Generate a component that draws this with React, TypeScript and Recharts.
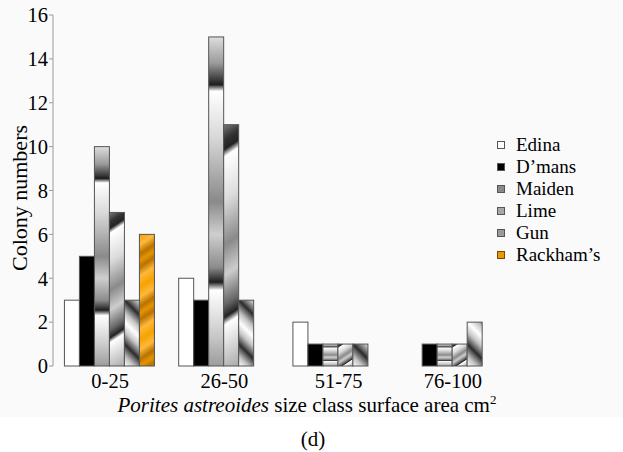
import React from 'react';
import { BarChart, Bar, XAxis, YAxis, Legend } from 'recharts';

// Porites astreoides colony counts per size class, by site
const sizeClasses = ['0-25', '26-50', '51-75', '76-100'];
const edina = [3, 4, 2, 0];
const dmans = [5, 3, 1, 1];
const maiden = [10, 15, 1, 1];
const lime = [7, 11, 1, 1];
const gun = [3, 3, 1, 2];
const rackhams = [6, 0, 0, 0];
const yTicks = [0, 2, 4, 6, 8, 10, 12, 14, 16];
const boundaryTicks = [0, 1, 2, 3, 4];

const FONT = '"Liberation Serif", "Times New Roman", Times, serif';
const AXIS = '#9a9a9a';
const EDGE = '#555';

const series = [
  { key: 'edina', name: 'Edina', kind: 'white', swatch: '#fff' },
  { key: 'dmans', name: 'D\u2019mans', kind: 'black', swatch: '#000' },
  { key: 'maiden', name: 'Maiden', kind: 'bands', swatch: '#8a8a8a' },
  { key: 'lime', name: 'Lime', kind: 'slant', swatch: '#a8a8a8' },
  { key: 'gun', name: 'Gun', kind: 'zigzag', swatch: '#9a9a9a' },
  { key: 'rackhams', name: 'Rackham\u2019s', kind: 'orange', swatch: '#e8960a' },
];

const chartData = sizeClasses.map((size, i) => ({
  size,
  edina: edina[i],
  dmans: dmans[i],
  maiden: maiden[i],
  lime: lime[i],
  gun: gun[i],
  rackhams: rackhams[i],
}));

type Stop = [number, string];

const bandStops: Stop[] = [
  [0, '#dedede'], [0.08, '#9a9a9a'], [0.145, '#1e1e1e'], [0.165, '#ffffff'],
  [0.3, '#dadada'], [0.5, '#8a8a8a'], [0.6, '#cfcfcf'], [0.7, '#8c8c8c'],
  [0.745, '#1e1e1e'], [0.77, '#ffffff'], [0.9, '#cccccc'], [1, '#9c9c9c'],
];
const slantStops: Stop[] = [
  [0, '#7a7a7a'], [0.06, '#333'], [0.1, '#222'], [0.13, '#fff'], [0.3, '#dcdcdc'],
  [0.48, '#8a8a8a'], [0.6, '#cdcdcd'], [0.72, '#666'], [0.77, '#222'], [0.8, '#fff'], [1, '#aaa'],
];
const zigzagStops: Stop[] = [[0, '#fff'], [0.45, '#c4c4c4'], [0.8, '#666'], [1, '#2a2a2a']];
const orangeStops: Stop[] = [[0, '#f5a300'], [0.4, '#ffb83a'], [0.75, '#b87200'], [1, '#e59300']];

const stopEls = (stops: Stop[]) =>
  stops.map(([o, c], i) => <stop key={i} offset={o} stopColor={c} />);

const makeShape = (kind: string) => (props: any) => {
  const { x, y, width, height, index } = props;
  if (!height || height <= 0) return null;
  const id = `${kind}-${index}`;
  const rect = (fill: string) => (
    <rect x={x} y={y} width={width} height={height} fill={fill} stroke={EDGE} strokeWidth={1} />
  );
  if (kind === 'white') return rect('#ffffff');
  if (kind === 'black') return rect('#000000');

  let grad: React.ReactNode = null;
  if (kind === 'bands') {
    grad = (
      <linearGradient id={id} x1="0" y1="0" x2="0" y2="1">
        {stopEls(bandStops)}
      </linearGradient>
    );
  } else if (kind === 'slant') {
    const nx = 0.55;
    const ny = 0.835;
    const L = nx * width + ny * height;
    grad = (
      <linearGradient id={id} gradientUnits="userSpaceOnUse" x1={x} y1={y} x2={x + nx * L} y2={y + ny * L}>
        {stopEls(slantStops)}
      </linearGradient>
    );
  } else if (kind === 'zigzag') {
    const p = 11;
    grad = (
      <linearGradient
        id={id}
        gradientUnits="userSpaceOnUse"
        spreadMethod="reflect"
        x1={x}
        y1={y + height}
        x2={x + p}
        y2={y + height - p}
      >
        {stopEls(zigzagStops)}
      </linearGradient>
    );
  } else {
    const p = 22;
    grad = (
      <linearGradient
        id={id}
        gradientUnits="userSpaceOnUse"
        spreadMethod="reflect"
        x1={x}
        y1={y}
        x2={x + 0.55 * p}
        y2={y + 0.835 * p}
      >
        {stopEls(orangeStops)}
      </linearGradient>
    );
  }
  return (
    <g>
      <defs>{grad}</defs>
      {rect(`url(#${id})`)}
    </g>
  );
};

// legend rows: slightly looser than the source so the labels don't collide
const renderLegend = () => (
  <div style={{ fontFamily: FONT, fontSize: 19, color: '#000' }}>
    {series.map((s) => (
      <div key={s.key} style={{ display: 'flex', alignItems: 'center', height: 22, lineHeight: '22px' }}>
        <span
          style={{
            display: 'inline-block',
            width: 6,
            height: 6,
            background: s.swatch,
            border: `1px solid ${s.kind === 'orange' ? '#7a4a00' : '#555'}`,
            marginRight: 11,
          }}
        />
        <span>{s.name}</span>
      </div>
    ))}
  </div>
);

const renderYLabel = () => (
  <text
    x={19}
    y={198}
    transform="rotate(-90 19 198)"
    textAnchor="middle"
    dominantBaseline="central"
    fontSize={22}
    fontFamily={FONT}
    fill="#000"
  >
    Colony numbers
  </text>
);

const renderXLabel = () => (
  <g>
    <text x={307} y={412} textAnchor="middle" fontSize={21} fontFamily={FONT} fill="#000">
      <tspan fontStyle="italic">Porites astreoides</tspan> size class surface area cm
      <tspan dy={-8} fontSize={13}>2</tspan>
    </text>
    <text x={313} y={446} textAnchor="middle" fontSize={21} fontFamily={FONT} fill="#000">
      (d)
    </text>
  </g>
);

export default function App() {
  return (
    <div
      style={{
        position: 'absolute',
        left: 0,
        top: 0,
        width: 623,
        height: 452,
        background: 'linear-gradient(#fafafa 0, #fafafa 417px, #ffffff 417px)',
        fontFamily: FONT,
      }}
    >
      <BarChart
        width={623}
        height={452}
        data={chartData}
        margin={{ top: 15, right: 113, bottom: 56, left: 0 }}
        barCategoryGap="10%"
        barGap={0}
      >
        <XAxis
          xAxisId="grid"
          type="number"
          domain={[0, 4]}
          ticks={boundaryTicks}
          height={0}
          axisLine={{ stroke: AXIS }}
          tickLine={{ stroke: AXIS }}
          tickSize={5}
          tickFormatter={() => ''}
          allowDataOverflow
        />
        <XAxis
          xAxisId="cat"
          dataKey="size"
          height={30}
          axisLine={false}
          tickLine={false}
          tickMargin={1}
          tick={{ fill: '#000', fontSize: 20.5, fontFamily: FONT }}
          label={renderXLabel}
        />
        <YAxis
          width={53}
          domain={[0, 16]}
          ticks={yTicks}
          interval={0}
          axisLine={{ stroke: AXIS }}
          tickLine={{ stroke: AXIS }}
          tickSize={4}
          tickMargin={1}
          tick={{ fill: '#000', fontSize: 20.5, fontFamily: FONT }}
          label={renderYLabel}
        />
        <Legend
          layout="horizontal"
          align="center"
          verticalAlign="middle"
          width={126}
          wrapperStyle={{ left: 497, top: 134, width: 126 }}
          content={renderLegend}
        />
        {series.map((s) => (
          <Bar
            key={s.key}
            xAxisId="cat"
            dataKey={s.key}
            name={s.name}
            fill={s.swatch}
            shape={makeShape(s.kind)}
            isAnimationActive={false}
          />
        ))}
      </BarChart>
    </div>
  );
}
